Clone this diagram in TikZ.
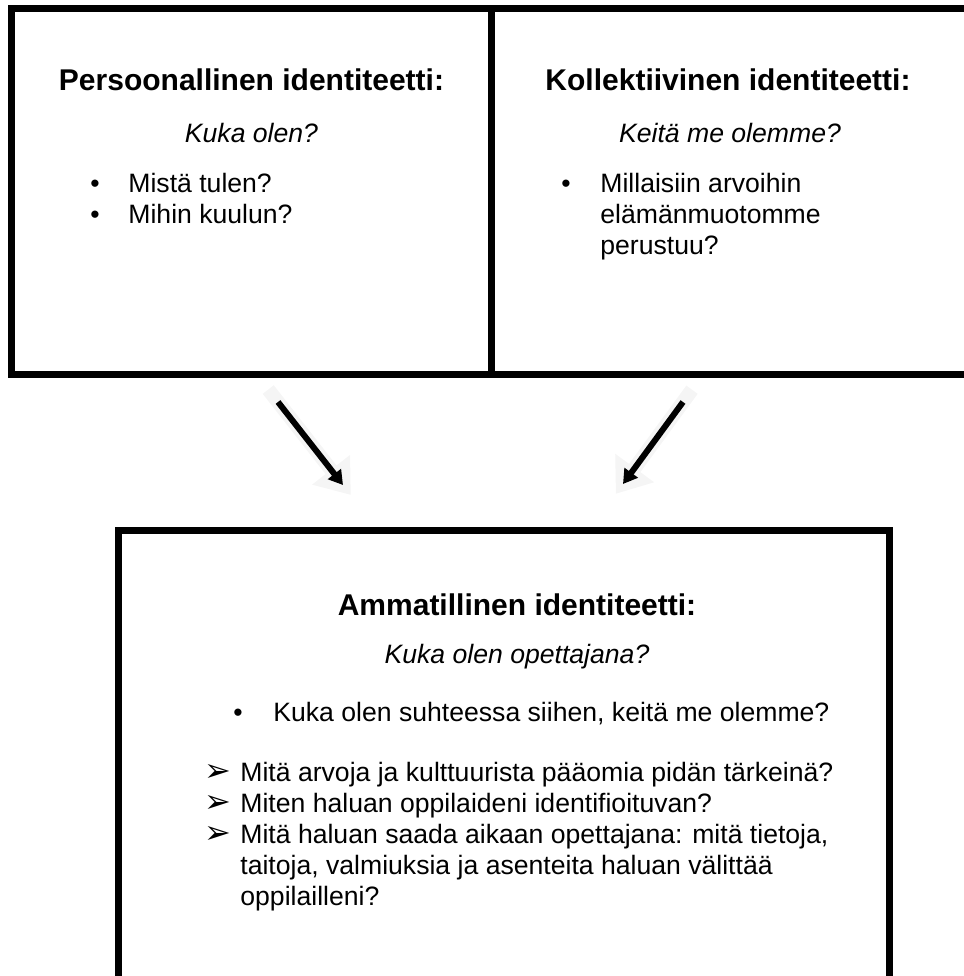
\documentclass[tikz,border=0pt]{standalone}
\usepackage{fontspec}
\setmainfont{Liberation Sans}
\newfontfamily\dejavu{DejaVu Sans}
\usetikzlibrary{positioning,arrows.meta,calc}

\begin{document}
\begin{tikzpicture}[x=0.5pt,y=-0.5pt,
    box/.style={draw,line width=3.5pt,inner sep=0pt},
    head/.style={font=\fontsize{15}{17}\selectfont\bfseries},
    ask/.style={font=\fontsize{13.3}{15.5}\selectfont\itshape},
    item/.style={font=\fontsize{13.3}{15.5}\selectfont,anchor=west,inner sep=0pt,
        text height=0.75em,text depth=0.25em},
    dot/.style={font=\fontsize{13.3}{15.5}\selectfont,inner sep=0pt,
        text height=0.75em,text depth=0.25em},
    glow/.style={line width=7pt,draw=gray!8,-{Triangle[width=23pt,length=16pt]}},
    fat/.style={line width=3pt,-{Triangle[width=8pt,length=7pt]}}]
    \useasboundingbox (0,0) rectangle (964,976);

    % Boxes
    \node[box,minimum width=240pt,minimum height=182.75pt] (pers) at (251.5,191.25) {};
    \node[box,minimum width=244.25pt,minimum height=182.75pt] (koll) at (735.75,191.25) {};
    \node[box,minimum width=385.25pt,minimum height=227.5pt] (amm) at (503.75,757.5) {};

    % Left box text
    \node[head] (persh) at (251.5,80) {Persoonallinen identiteetti:};
    \node[ask] (persq) at (251.5,133) {Kuka olen?};
    \node[dot] (pd1) at (95,187) {•};
    \node[item] (pi1) at (128,187) {Mistä tulen?};
    \node[dot] (pd2) at (95,218) {•};
    \node[item] (pi2) at (128,218) {Mihin kuulun?};

    % Right box text
    \node[head] (kollh) at (728,80) {Kollektiivinen identiteetti:};
    \node[ask] (kollq) at (730,133) {Keitä me olemme?};
    \node[dot] (kd1) at (566,187) {•};
    \node[item] (ki1) at (600,187) {Millaisiin arvoihin};
    \node[item] (ki2) at (600,218) {elämänmuotomme};
    \node[item] (ki3) at (600,249) {perustuu?};

    % Arrows
    \coordinate (ls) at (278,402);
    \coordinate (le) at (343,485);
    \coordinate (rs) at (683,402);
    \coordinate (re) at (623,484);
    \draw[glow] ($(ls)!-0.15!(le)$) -- ($(le)!-0.12!(ls)$);
    \draw[glow] ($(rs)!-0.15!(re)$) -- ($(re)!-0.12!(rs)$);
    \draw[fat] (ls) -- (le);
    \draw[fat] (rs) -- (re);

    % Bottom box text
    \node[head] (ammh) at (517,605) {Ammatillinen identiteetti:};
    \node[ask] (ammq) at (517,657) {Kuka olen opettajana?};
    \node[dot] (ad1) at (238,716) {•};
    \node[item] (ai1) at (273,716) {Kuka olen suhteessa siihen, keitä me olemme?};
    \node[dot] (ar1) at (218,776) {\dejavu\fontsize{16}{18}\selectfont ➢};
    \node[item] (aj1) at (240,776) {Mitä arvoja ja kulttuurista pääomia pidän tärkeinä?};
    \node[dot] (ar2) at (218,807) {\dejavu\fontsize{16}{18}\selectfont ➢};
    \node[item] (aj2) at (240,807) {Miten haluan oppilaideni identifioituvan?};
    \node[dot] (ar3) at (218,838) {\dejavu\fontsize{16}{18}\selectfont ➢};
    \node[item] (aj3) at (240,838) {Mitä haluan saada aikaan opettajana: mitä tietoja,};
    \node[item] (aj4) at (240,869) {taitoja, valmiuksia ja asenteita haluan välittää};
    \node[item] (aj5) at (240,900) {oppilailleni?};
\end{tikzpicture}
\end{document}
